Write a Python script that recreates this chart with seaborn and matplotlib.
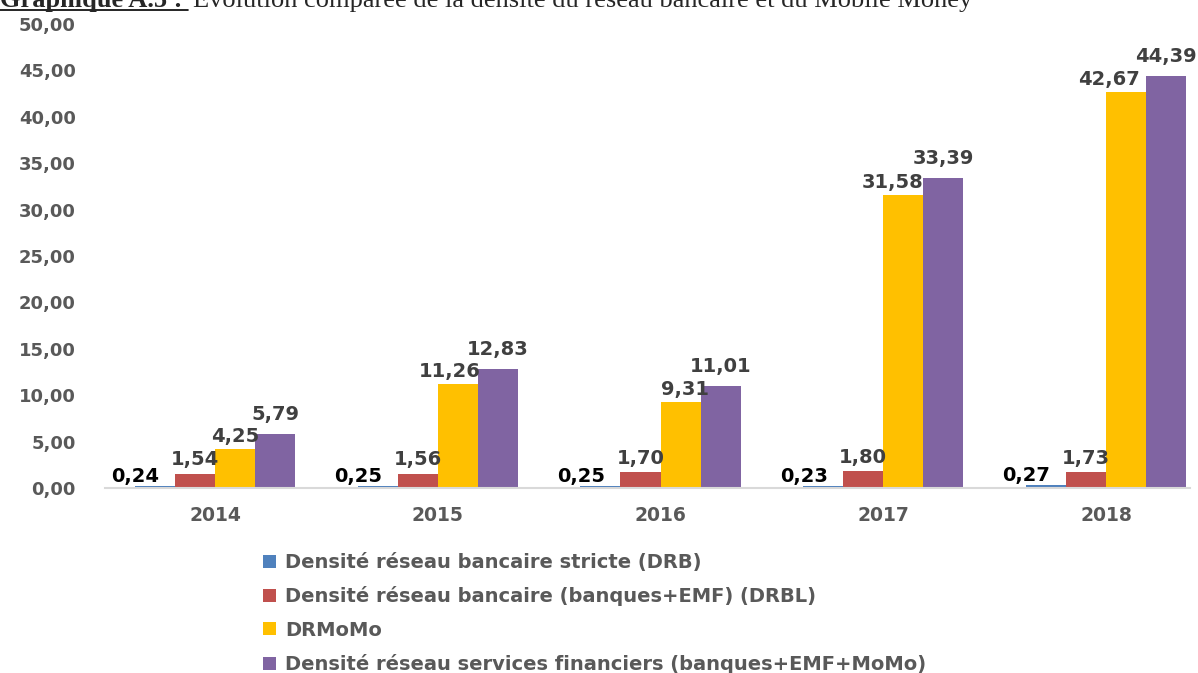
import numpy as np
import pandas as pd
import seaborn as sns
from matplotlib import pyplot as plt
from matplotlib.lines import Line2D
from matplotlib.patches import Patch
from matplotlib.ticker import FuncFormatter

# donnees du graphique
annees = ['2014', '2015', '2016', '2017', '2018']
series = ['Densité réseau bancaire stricte (DRB)',
          'Densité réseau bancaire (banques+EMF) (DRBL)',
          'DRMoMo',
          'Densité réseau services financiers (banques+EMF+MoMo)']
drb = [0.24, 0.25, 0.25, 0.23, 0.27]
drbl = [1.54, 1.56, 1.70, 1.80, 1.73]
drmomo = [4.25, 11.26, 9.31, 31.58, 42.67]
drsf = [5.79, 12.83, 11.01, 33.39, 44.39]
couleurs = ['#4F81BD', '#C0504D', '#FFC000', '#8064A2']

df = pd.DataFrame({
    'annee': annees * 4,
    'serie': [s for s in series for _ in annees],
    'valeur': drb + drbl + drmomo + drsf,
})

sns.set_style('white')
plt.rcParams['font.family'] = ['DejaVu Sans']

fig = plt.figure(figsize=(11.98, 6.73), dpi=100)
ax = fig.add_axes([105 / 1198, 1 - 488 / 673, 1085 / 1198, 464 / 673])

sns.barplot(data=df, x='annee', y='valeur', hue='serie', order=annees,
            hue_order=series, palette=couleurs, saturation=1, width=0.72,
            linewidth=0, legend=False, ax=ax)

ax.set_ylim(0, 50)
ax.set_xlim(-0.494, 4.377)
ax.set_yticks(np.arange(0, 50.1, 5))
ax.yaxis.set_major_formatter(FuncFormatter(lambda v, p: f'{v:.2f}'.replace('.', ',')))
ax.tick_params(axis='y', length=0, pad=21, labelsize=13, labelcolor='#595959')
ax.tick_params(axis='x', length=0, pad=13, labelsize=13.5, labelcolor='#595959')
for t in ax.get_xticklabels() + ax.get_yticklabels():
    t.set_fontweight('bold')
ax.set_xlabel('')
ax.set_ylabel('')
for s in ['top', 'right', 'left']:
    ax.spines[s].set_visible(False)
ax.spines['bottom'].set_color('#D9D9D9')
ax.spines['bottom'].set_linewidth(1.5)

# etiquettes de donnees (decalages facon Excel pour eviter les chevauchements)
decal_y = [3, 6, 5, 10]
decal_x = [[-14] * 5, [0] * 5, [0, -6, 3, -8, -12], [0] * 5]
for i, cont in enumerate(ax.containers):
    for j, bar in enumerate(cont):
        h = bar.get_height()
        ax.annotate(f'{h:.2f}'.replace('.', ','),
                    (bar.get_x() + bar.get_width() / 2, h),
                    xytext=(decal_x[i][j], decal_y[i]), textcoords='offset points',
                    ha='center', va='baseline', fontsize=14, fontweight='bold',
                    color='black' if i == 0 else '#404040', annotation_clip=False)

# legende
poignees = [Patch(facecolor=c, edgecolor='none') for c in couleurs]
leg = fig.legend(poignees, series, loc='upper left',
                 bbox_to_anchor=(263 / 1198, 1 - 553 / 673), frameon=False,
                 handlelength=0.65, handleheight=0.65, handletextpad=0.5,
                 labelspacing=0.74, borderpad=0, borderaxespad=0,
                 prop={'size': 14, 'weight': 'bold'})
for t in leg.get_texts():
    t.set_color('#595959')

# titre (coupe en haut de l'image)
fig.text(0, 1 - 7 / 673, 'Graphique A.5 :', fontsize=19, fontweight='bold',
         family='Liberation Serif', va='baseline', ha='left')
fig.text(193 / 1198, 1 - 7 / 673,
         'Évolution comparée de la densité du réseau bancaire et du Mobile Money',
         fontsize=19, family='Liberation Serif', va='baseline', ha='left')
fig.add_artist(Line2D([0, 188 / 1198], [1 - 10 / 673, 1 - 10 / 673],
                      transform=fig.transFigure, color='black', linewidth=1.2))

fig.savefig('out.png', dpi=100)
